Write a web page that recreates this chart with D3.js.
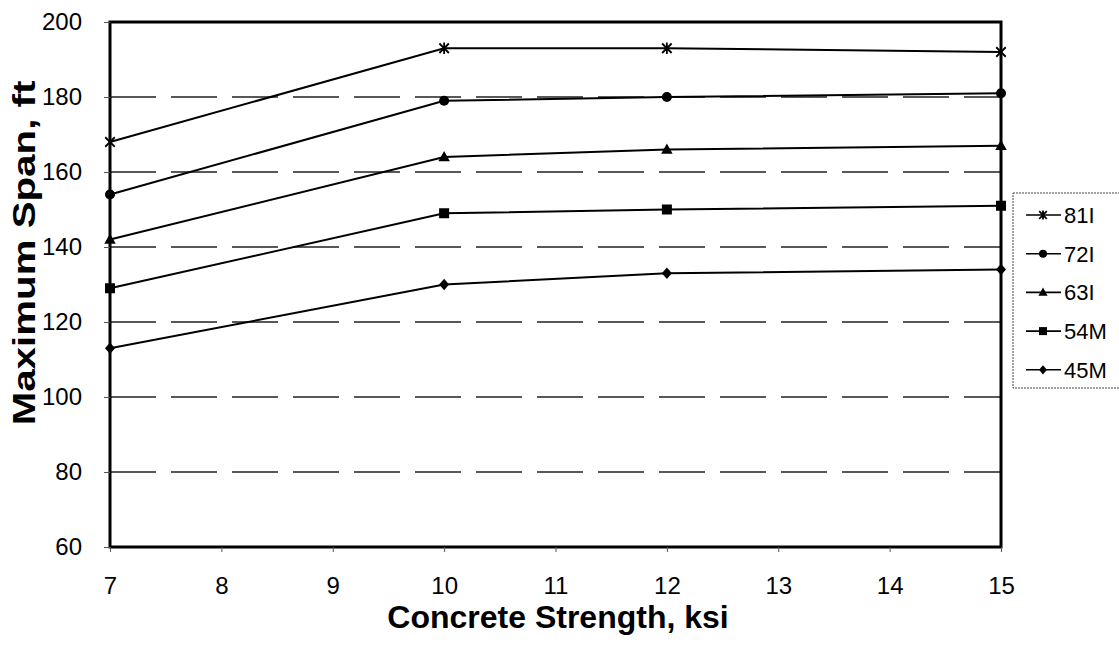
<!DOCTYPE html>
<html>
<head>
<meta charset="utf-8">
<script src="https://cdn.jsdelivr.net/npm/d3@7"></script>
<style>
  html, body { margin: 0; padding: 0; background: #fff; }
  svg { display: block; font-family: "Liberation Sans", Arial, sans-serif; }
</style>
</head>
<body>
<svg id="chart" width="1119" height="648"></svg>
<script>
// Concrete strength (ksi) at which each girder was evaluated
const strengths = [7, 10, 12, 15];

// Maximum span (ft) for each girder section
const seriesNames = ["81I", "72I", "63I", "54M", "45M"];
const span81I = [168, 193, 193, 192];
const span72I = [154, 179, 180, 181];
const span63I = [142, 164, 166, 167];
const span54M = [129, 149, 150, 151];
const span45M = [113, 130, 133, 134];
const markerTypes = ["star", "circle", "triangle", "square", "diamond"];

const xTicks = [7, 8, 9, 10, 11, 12, 13, 14, 15];
const yTicks = [60, 80, 100, 120, 140, 160, 180, 200];

const seriesValues = [span81I, span72I, span63I, span54M, span45M];
const series = seriesNames.map((name, i) => ({
  name,
  marker: markerTypes[i],
  points: strengths.map((s, j) => ({ x: s, y: seriesValues[i][j] }))
}));

const svg = d3.select("#chart");
const plot = { left: 110, right: 1001, top: 22, bottom: 547 };

const x = d3.scaleLinear().domain([7, 15]).range([plot.left, plot.right]);
const y = d3.scaleLinear().domain([60, 200]).range([plot.bottom, plot.top]);

// Dashed horizontal gridlines
svg.append("g")
  .selectAll("line")
  .data(yTicks.filter(v => v > 60 && v < 200))
  .join("line")
  .attr("x1", plot.left).attr("x2", plot.right)
  .attr("y1", d => y(d)).attr("y2", d => y(d))
  .attr("stroke", "#222").attr("stroke-width", 1.3)
  .attr("stroke-dasharray", "46,15");

// Plot frame
svg.append("rect")
  .attr("x", plot.left).attr("y", plot.top)
  .attr("width", plot.right - plot.left).attr("height", plot.bottom - plot.top)
  .attr("fill", "none").attr("stroke", "#000").attr("stroke-width", 3);

// Axes
const xAxis = svg.append("g")
  .attr("transform", `translate(0,${plot.bottom})`)
  .call(d3.axisBottom(x).tickValues(xTicks).tickSize(5).tickFormat(d3.format("d")));
const yAxis = svg.append("g")
  .attr("transform", `translate(${plot.left},0)`)
  .call(d3.axisLeft(y).tickValues(yTicks).tickSize(6).tickPadding(22).tickFormat(d3.format("d")));

[xAxis, yAxis].forEach(ax => {
  ax.select(".domain").remove();
  ax.selectAll(".tick line").attr("stroke", "#555").attr("stroke-width", 1);
  ax.selectAll(".tick text")
    .attr("fill", "#000")
    .style("font-size", "24px")
    .style("font-family", "'Liberation Sans', Arial, sans-serif");
});
// x tick labels sit with their baseline 47px below the axis
xAxis.selectAll(".tick text")
  .attr("dy", null)
  .attr("y", 47);

// Axis titles
svg.append("text")
  .attr("transform", "translate(558,628)")
  .attr("text-anchor", "middle")
  .style("font-size", "32px").style("font-weight", "bold")
  .text("Concrete Strength, ksi");

svg.append("text")
  .attr("transform", "translate(35,253) rotate(-90) scale(1.3,1)")
  .attr("text-anchor", "middle")
  .style("font-size", "31px").style("font-weight", "bold")
  .text("Maximum Span, ft");

// Marker drawing helper
function drawMarker(sel, type, size) {
  const s = size;
  if (type === "star") {
    const a = s * 0.95;
    sel.append("path")
      .attr("d", `M${-a},${-a}L${a},${a}M${-a},${a}L${a},${-a}M0,${-a * 1.2}L0,${a * 1.2}`)
      .attr("stroke", "#000").attr("stroke-width", 1.8).attr("fill", "none");
  } else if (type === "circle") {
    sel.append("circle").attr("r", s).attr("fill", "#000");
  } else if (type === "triangle") {
    sel.append("path")
      .attr("d", `M0,${-s * 1.2}L${s * 1.15},${s * 0.85}L${-s * 1.15},${s * 0.85}Z`)
      .attr("fill", "#000");
  } else if (type === "square") {
    sel.append("rect").attr("x", -s).attr("y", -s).attr("width", 2 * s).attr("height", 2 * s).attr("fill", "#000");
  } else if (type === "diamond") {
    sel.append("path")
      .attr("d", `M0,${-s * 1.15}L${s},0L0,${s * 1.15}L${-s},0Z`)
      .attr("fill", "#000");
  }
}

const line = d3.line().x(d => x(d.x)).y(d => y(d.y));

const seriesG = svg.append("g")
  .selectAll("g")
  .data(series)
  .join("g");

seriesG.append("path")
  .attr("d", d => line(d.points))
  .attr("fill", "none").attr("stroke", "#000").attr("stroke-width", 2);

seriesG.each(function (d) {
  d3.select(this).selectAll("g.pt")
    .data(d.points)
    .join("g")
    .attr("class", "pt")
    .attr("transform", p => `translate(${x(p.x)},${y(p.y)})`)
    .each(function () { drawMarker(d3.select(this), d.marker, 5); });
});

// Legend
const legend = svg.append("g").attr("transform", "translate(1013,193)");
legend.append("rect")
  .attr("x", 0).attr("y", 0).attr("width", 110).attr("height", 195)
  .attr("fill", "#fff").attr("stroke", "#444").attr("stroke-width", 1)
  .attr("stroke-dasharray", "2,1");

const items = legend.selectAll("g.item")
  .data(series)
  .join("g")
  .attr("class", "item")
  .attr("transform", (d, i) => `translate(0,${22 + i * 38.7})`);

items.append("line")
  .attr("x1", 13).attr("x2", 48).attr("y1", 0).attr("y2", 0)
  .attr("stroke", "#000").attr("stroke-width", 1.6);
items.each(function (d) {
  const g = d3.select(this).append("g").attr("transform", "translate(30,0)");
  drawMarker(g, d.marker, 4);
});
items.append("text")
  .attr("x", 51).attr("y", 8)
  .style("font-size", "22px")
  .text(d => d.name);
</script>
</body>
</html>
